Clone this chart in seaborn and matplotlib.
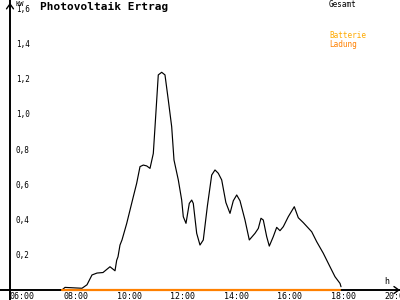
import matplotlib
matplotlib.use("Agg")
import matplotlib.pyplot as plt
from matplotlib import transforms
import pandas as pd
import seaborn as sns

# ---- data ----
hours = [7.735, 7.847, 8.481, 8.668, 8.854, 9.041, 9.265, 9.526, 9.713, 9.776,
         9.825, 9.899, 9.974, 10.149, 10.396, 10.522, 10.646, 10.769, 10.896, 11.019,
         11.142, 11.205, 11.328, 11.455, 11.578, 11.701, 11.828, 11.914, 12.075, 12.201,
         12.261, 12.362, 12.485, 12.575, 12.634, 12.761, 12.884, 13.007, 13.16, 13.321,
         13.444, 13.567, 13.694, 13.85, 14.004, 14.127, 14.254, 14.377, 14.563, 14.724,
         14.937, 15.060, 15.160, 15.246, 15.373, 15.470, 15.619, 15.746, 15.869, 15.993,
         16.179, 16.403, 16.552, 16.739, 17.052, 17.239, 17.485, 17.735, 17.922, 18.108,
         18.146]
gesamt_kw = [0.0, 0.015, 0.01, 0.03, 0.086, 0.097, 0.10, 0.133, 0.11, 0.17,
             0.19, 0.257, 0.286, 0.38, 0.533, 0.61, 0.705, 0.714, 0.709, 0.695,
             0.78, 0.93, 1.229, 1.244, 1.229, 1.086, 0.933, 0.743, 0.629, 0.514,
             0.419, 0.381, 0.495, 0.514, 0.495, 0.324, 0.257, 0.286, 0.48, 0.657,
             0.686, 0.667, 0.629, 0.50, 0.438, 0.51, 0.543, 0.51, 0.40, 0.286,
             0.324, 0.352, 0.41, 0.40, 0.305, 0.251, 0.305, 0.358, 0.339, 0.362,
             0.419, 0.476, 0.413, 0.385, 0.333, 0.276, 0.21, 0.133, 0.076, 0.038,
             0.019]
ladung_hours = [7.74, 18.12]
ladung_kw = [0.0, 0.0]

x_ticks = [6, 8, 10, 12, 14, 16, 18, 20]
x_tick_labels = ["06:00", "08:00", "10:00", "12:00", "14:00", "16:00", "18:00", "20:00"]
y_ticks = [0.2, 0.4, 0.6, 0.8, 1.0, 1.2, 1.4, 1.6]
y_tick_labels = ["0,2", "0,4", "0,6", "0,8", "1,0", "1,2", "1,4", "1,6"]

title = "Photovoltaik Ertrag"
legend_labels = ["Gesamt", "Batterie", "Ladung"]
legend_colors = ["black", "#ffaa00", "#ff8000"]

# ---- style ----
sns.set_style("white")
plt.rcParams["font.family"] = ["DejaVu Sans Mono"]
plt.rcParams["text.color"] = "black"

fig = plt.figure(figsize=(4, 3), dpi=100)
ax = fig.add_axes([0, 0, 1, 1])
ax.set_facecolor("white")

Y_AXIS_X = 5.795

df = pd.DataFrame({"Zeit": hours, "kW": gesamt_kw})
sns.lineplot(data=df, x="Zeit", y="kW", color="black", lw=0.85, ax=ax, zorder=3)
df2 = pd.DataFrame({"Zeit": ladung_hours, "kW": ladung_kw})
sns.lineplot(data=df2, x="Zeit", y="kW", color="#ff8000", lw=1.6, ax=ax, zorder=4)

ax.set_xlim(5.422, 20.347)
ax.set_ylim(-0.057, 1.657)
ax.set_xlabel("")
ax.set_ylabel("")

for s in ["top", "right"]:
    ax.spines[s].set_visible(False)
ax.spines["bottom"].set_position(("data", 0))
ax.spines["left"].set_position(("data", Y_AXIS_X))
for s in ["bottom", "left"]:
    ax.spines[s].set_linewidth(1.4)
    ax.spines[s].set_color("black")
    ax.spines[s].set_zorder(2)

ax.set_xticks(x_ticks)
ax.set_yticks(y_ticks)
ax.set_xticklabels([])
ax.set_yticklabels([])
ax.tick_params(direction="inout", length=4.5, width=1, color="black")

dpt = fig.dpi_scale_trans
off_x = transforms.ScaledTranslation(-6 / 100, -2 / 100, dpt)
for xv, lab in zip(x_ticks, x_tick_labels):
    ax.text(xv, 0, lab, transform=ax.transData + off_x, ha="left", va="top",
            fontsize=6, color="black", clip_on=False)
off_y = transforms.ScaledTranslation(6 / 100, 0, dpt)
for yv, lab in zip(y_ticks, y_tick_labels):
    ax.text(Y_AXIS_X, yv, lab, transform=ax.transData + off_y, ha="left", va="center",
            fontsize=5.5, color="black")

# axis arrows
ax.annotate("", xy=(Y_AXIS_X, 1.657), xytext=(Y_AXIS_X, 1.6),
            arrowprops=dict(arrowstyle="->,head_length=0.35,head_width=0.25", lw=1, color="black"))
ax.annotate("", xy=(20.347, 0), xytext=(20.2, 0),
            arrowprops=dict(arrowstyle="->,head_length=0.35,head_width=0.25", lw=1, color="black"))

# texts
fig.text(15 / 400, 1 - 4 / 300, "KW", fontsize=5, ha="left", va="center", color="black")
fig.text(387 / 400, 1 - 281.5 / 300, "h", fontsize=6, ha="center", va="center", color="black")
fig.text(40 / 400, 1 - 7 / 300, title, fontsize=8, fontweight="bold", ha="left",
         va="center", color="black")
for lab, col, yp in zip(legend_labels, legend_colors, [4.5, 35.5, 44]):
    fig.text(329 / 400, 1 - yp / 300, lab, fontsize=5.5, color=col, ha="left", va="center")

fig.savefig("out.png", dpi=100)
